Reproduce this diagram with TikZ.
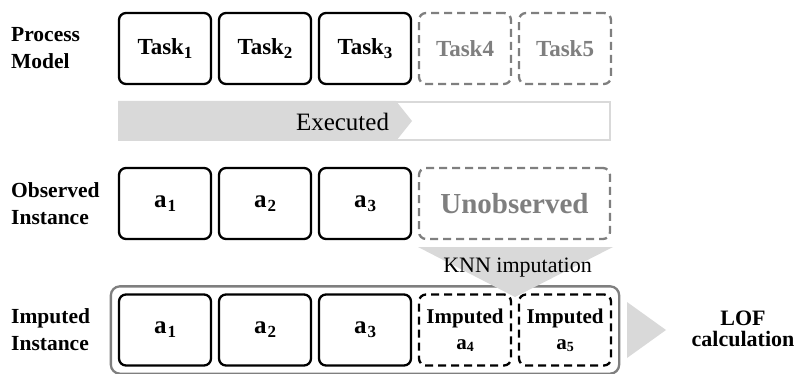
\documentclass[tikz,border=0pt]{standalone}
\usepackage{fontspec}
\setmainfont{Liberation Serif}
\usepackage{tikz}
\usetikzlibrary{positioning,fit,backgrounds}
\definecolor{ghostgray}{HTML}{7F7F7F}
\definecolor{bargray}{HTML}{D9D9D9}
\newcommand{\lowidx}[1]{\raisebox{-0.35ex}{\fontsize{17}{17}\selectfont#1}}
\tikzset{
  tbox/.style={rectangle, rounded corners=7pt, draw=black, fill=white, text=black,
               line width=2.3pt, minimum width=92pt, minimum height=71pt, inner sep=2pt,
               align=center, font=\bfseries\fontsize{23}{26}\selectfont},
  ghost/.style={tbox, draw=ghostgray, text=ghostgray, dash pattern=on 8pt off 5pt},
  ibox/.style={tbox, dash pattern=on 8pt off 5pt, font=\bfseries\fontsize{21}{26}\selectfont},
  lbl/.style={anchor=west, align=left, inner sep=0pt, font=\bfseries\fontsize{21.5}{27}\selectfont},
  frm/.style={draw=ghostgray, rounded corners=9pt, line width=2.3pt, inner sep=7pt},
}

\begin{document}
\begin{tikzpicture}[x=1pt,y=-1pt]
\useasboundingbox (0,0) rectangle (794,374);
% process model row
\foreach \i in {1,2,3}{
  \node[tbox] (t\i) at (65+100*\i,48.5) {Task\lowidx{\i}};
}
\foreach \i in {4,5}{
  \node[ghost] (t\i) at (65+100*\i,48.5) {Task\i};
}
\node[lbl] (pm) at (11,48.5) {Process\\Model};
% executed bar
\draw[bargray, line width=2pt] (119,102) rectangle (610,140);
\fill[bargray] (118,101) -- (396,101) -- (412,121) -- (396,141) -- (118,141) -- cycle;
\node[font=\fontsize{25}{28}\selectfont] (exe) at (342.5,121.5) {Executed};
% observed row
\foreach \i in {1,2,3}{
  \node[tbox, font=\bfseries\fontsize{25}{28}\selectfont] (o\i) at (65+100*\i,203.5) {a\kern1pt\lowidx{\i}};
}
\node[ghost, minimum width=191pt, font=\bfseries\fontsize{29}{32}\selectfont] (unobs) at (514.5,203.5) {Unobserved};
\node[lbl] (oi) at (11,203.5) {Observed\\Instance};
% imputed row
\foreach \i in {1,2,3}{
  \node[tbox, font=\bfseries\fontsize{25}{28}\selectfont] (i\i) at (65+100*\i,330) {a\kern1pt\lowidx{\i}};
}
\foreach \i in {4,5}{
  \node[ibox] (i\i) at (65+100*\i,330) {Imputed\\a{\fontsize{14}{14}\selectfont\raisebox{-0.3ex}{\i}}};
}
\node[lbl] (ii) at (11,330) {Imputed\\Instance};
\begin{scope}[on background layer]
  \node[frm, fit=(i1)(i5)] (frame) {};
  \fill[bargray] (418,247) -- (613,247) -- (515,297) -- cycle;
\end{scope}
\node[font=\fontsize{22}{24}\selectfont] (knn) at (517.5,268) {KNN imputation};
% LOF step
\fill[bargray] (627,302) -- (666,330) -- (627,358) -- cycle;
\node[align=center, font=\bfseries\fontsize{22}{21}\selectfont] (lof) at (743,329) {LOF\\calculation};
\end{tikzpicture}
\end{document}
